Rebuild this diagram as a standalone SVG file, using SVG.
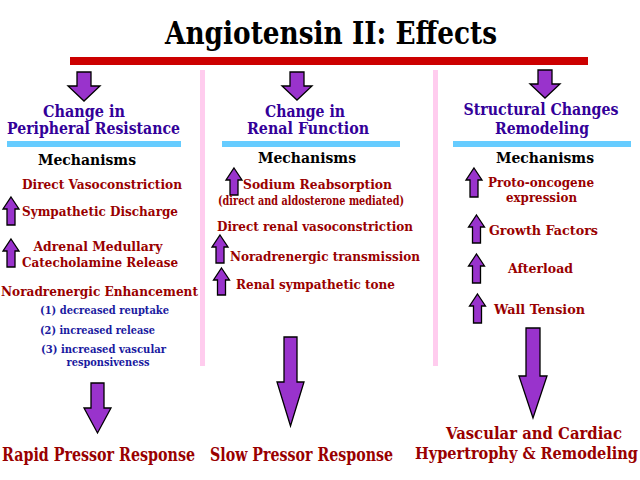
<svg xmlns="http://www.w3.org/2000/svg" width="640" height="480" viewBox="0 0 640 480">
<style>
text{font-family:'DejaVu Serif','Liberation Serif',serif;font-weight:bold}
.title{font-size:25.5px;fill:#000}
.head{font-size:13.4px;fill:#330099}
.mech{font-size:13.6px;fill:#000}
.item{font-size:11.5px;fill:#990000}
.sub{font-size:9.5px;fill:#1a1aa0}
.note{font-size:9.6px;fill:#990000}
.resp{font-size:13.7px;fill:#990000}
.arrow{fill:#9933cc;stroke:#000;stroke-width:1.3;stroke-linejoin:miter}
.div{fill:#ffccee}
.cyan{fill:#66ccff}
</style>
<rect width="640" height="480" fill="#fff"/>
<g id="title">
<text class="title" transform="translate(331,44) scale(1,1.25)" text-anchor="middle" textLength="332" lengthAdjust="spacingAndGlyphs">Angiotensin II: Effects</text>
<rect x="70" y="57" width="518" height="8" fill="#cc0000"/>
</g>
<g id="dividers">
<rect class="div" x="200" y="70" width="5" height="296"/>
<rect class="div" x="433" y="70" width="5" height="296"/>
</g>
<g id="connectors">
<path class="arrow" d="M77,72 H91 V86 H100 L84,101 L68,86 H77 Z"/>
<path class="arrow" d="M290,72 H304 V86 H312 L297,100 L282,86 H290 Z"/>
<path class="arrow" d="M538,70 H552 V84 H560 L545,98 L530,84 H538 Z"/>
<path class="arrow" d="M91,383 H104 V408 H111 L97.5,433 L84,408 H91 Z"/>
<path class="arrow" d="M284,337 H297 V382 H304 L290.5,426 L277,382 H284 Z"/>
<path class="arrow" d="M526,328 H540 V376 H547 L533,418 L519,376 H526 Z"/>
</g>
<g id="col-peripheral">
<text class="head" transform="translate(84,117) scale(1,1.2)" text-anchor="middle" textLength="82" lengthAdjust="spacingAndGlyphs">Change in</text>
<text class="head" transform="translate(93.5,134) scale(1,1.2)" text-anchor="middle" textLength="173" lengthAdjust="spacingAndGlyphs">Peripheral Resistance</text>
<rect class="cyan" x="7" y="141" width="174" height="6"/>
<text class="mech" transform="translate(87,165) scale(1,1.15)" text-anchor="middle" textLength="98" lengthAdjust="spacingAndGlyphs">Mechanisms</text>
<text class="item" transform="translate(22,189) scale(1,1.2)" textLength="160" lengthAdjust="spacingAndGlyphs">Direct Vasoconstriction</text>
<path class="arrow" d="M11,197 L19,209 H15 V225 H7 V209 H3 Z"/>
<text class="item" transform="translate(22,216) scale(1,1.2)" textLength="156" lengthAdjust="spacingAndGlyphs">Sympathetic Discharge</text>
<path class="arrow" d="M11,239 L19,251 H15 V267 H7 V251 H3 Z"/>
<text class="item" transform="translate(98,251) scale(1,1.2)" text-anchor="middle" textLength="129" lengthAdjust="spacingAndGlyphs">Adrenal Medullary</text>
<text class="item" transform="translate(22,267) scale(1,1.2)" textLength="156" lengthAdjust="spacingAndGlyphs">Catecholamine Release</text>
<text class="item" transform="translate(1,296) scale(1,1.2)" textLength="197" lengthAdjust="spacingAndGlyphs">Noradrenergic Enhancement</text>
<text class="sub" transform="translate(40,314) scale(1,1.2)" textLength="129" lengthAdjust="spacingAndGlyphs">(1) decreased reuptake</text>
<text class="sub" transform="translate(40,334) scale(1,1.2)" textLength="115" lengthAdjust="spacingAndGlyphs">(2) increased release</text>
<text class="sub" transform="translate(41,353) scale(1,1.2)" textLength="125" lengthAdjust="spacingAndGlyphs">(3) increased vascular</text>
<text class="sub" transform="translate(108,366) scale(1,1.2)" text-anchor="middle" textLength="83" lengthAdjust="spacingAndGlyphs">responsiveness</text>
<text class="resp" transform="translate(2,461) scale(1,1.3)" textLength="193" lengthAdjust="spacingAndGlyphs">Rapid Pressor Response</text>
</g>
<g id="col-renal">
<text class="head" transform="translate(305,117) scale(1,1.2)" text-anchor="middle" textLength="80" lengthAdjust="spacingAndGlyphs">Change in</text>
<text class="head" transform="translate(308,134) scale(1,1.2)" text-anchor="middle" textLength="122" lengthAdjust="spacingAndGlyphs">Renal Function</text>
<rect class="cyan" x="222" y="141" width="178" height="6"/>
<text class="mech" transform="translate(307,163) scale(1,1.15)" text-anchor="middle" textLength="98" lengthAdjust="spacingAndGlyphs">Mechanisms</text>
<path class="arrow" d="M234,168 L242,180 H238 V195 H230 V180 H226 Z"/>
<text class="item" transform="translate(243,189) scale(1,1.2)" textLength="149" lengthAdjust="spacingAndGlyphs">Sodium Reabsorption</text>
<text class="note" transform="translate(218,205) scale(1,1.25)" textLength="186" lengthAdjust="spacingAndGlyphs">(direct and aldosterone mediated)</text>
<text class="item" transform="translate(217,231) scale(1,1.2)" textLength="196" lengthAdjust="spacingAndGlyphs">Direct renal vasoconstriction</text>
<path class="arrow" d="M220,235 L228,247 H224 V263 H216 V247 H212 Z"/>
<text class="item" transform="translate(230,261) scale(1,1.2)" textLength="190" lengthAdjust="spacingAndGlyphs">Noradrenergic transmission</text>
<path class="arrow" d="M221.5,268 L229.5,280 H225.5 V295 H217.5 V280 H213.5 Z"/>
<text class="item" transform="translate(236,289) scale(1,1.2)" textLength="159" lengthAdjust="spacingAndGlyphs">Renal sympathetic tone</text>
<text class="resp" transform="translate(210,461) scale(1,1.3)" textLength="183" lengthAdjust="spacingAndGlyphs">Slow Pressor Response</text>
</g>
<g id="col-structural">
<text class="head" transform="translate(541,115) scale(1,1.2)" text-anchor="middle" textLength="155" lengthAdjust="spacingAndGlyphs">Structural Changes</text>
<text class="head" transform="translate(542,134) scale(1,1.2)" text-anchor="middle" textLength="94" lengthAdjust="spacingAndGlyphs">Remodeling</text>
<rect class="cyan" x="453" y="141" width="178" height="6"/>
<text class="mech" transform="translate(545,163) scale(1,1.15)" text-anchor="middle" textLength="98" lengthAdjust="spacingAndGlyphs">Mechanisms</text>
<path class="arrow" d="M474,168 L482,180 H478 V197 H470 V180 H466 Z"/>
<text class="item" transform="translate(541,187) scale(1,1.2)" text-anchor="middle" textLength="106" lengthAdjust="spacingAndGlyphs">Proto-oncogene</text>
<text class="item" transform="translate(541.5,202) scale(1,1.2)" text-anchor="middle" textLength="71" lengthAdjust="spacingAndGlyphs">expression</text>
<path class="arrow" d="M476.5,215 L484.5,227 H480.5 V243 H472.5 V227 H468.5 Z"/>
<text class="item" transform="translate(489,235) scale(1,1.2)" textLength="109" lengthAdjust="spacingAndGlyphs">Growth Factors</text>
<path class="arrow" d="M476.5,254 L484.5,266 H480.5 V283 H472.5 V266 H468.5 Z"/>
<text class="item" transform="translate(508,273) scale(1,1.2)" textLength="65" lengthAdjust="spacingAndGlyphs">Afterload</text>
<path class="arrow" d="M477.5,294 L485.5,306 H481.5 V323 H473.5 V306 H469.5 Z"/>
<text class="item" transform="translate(494,314) scale(1,1.2)" textLength="91" lengthAdjust="spacingAndGlyphs">Wall Tension</text>
<text class="resp" transform="translate(534,439) scale(1,1.22)" text-anchor="middle" textLength="176" lengthAdjust="spacingAndGlyphs">Vascular and Cardiac</text>
<text class="resp" transform="translate(415,459) scale(1,1.22)" textLength="223" lengthAdjust="spacingAndGlyphs">Hypertrophy &amp; Remodeling</text>
</g>
</svg>
